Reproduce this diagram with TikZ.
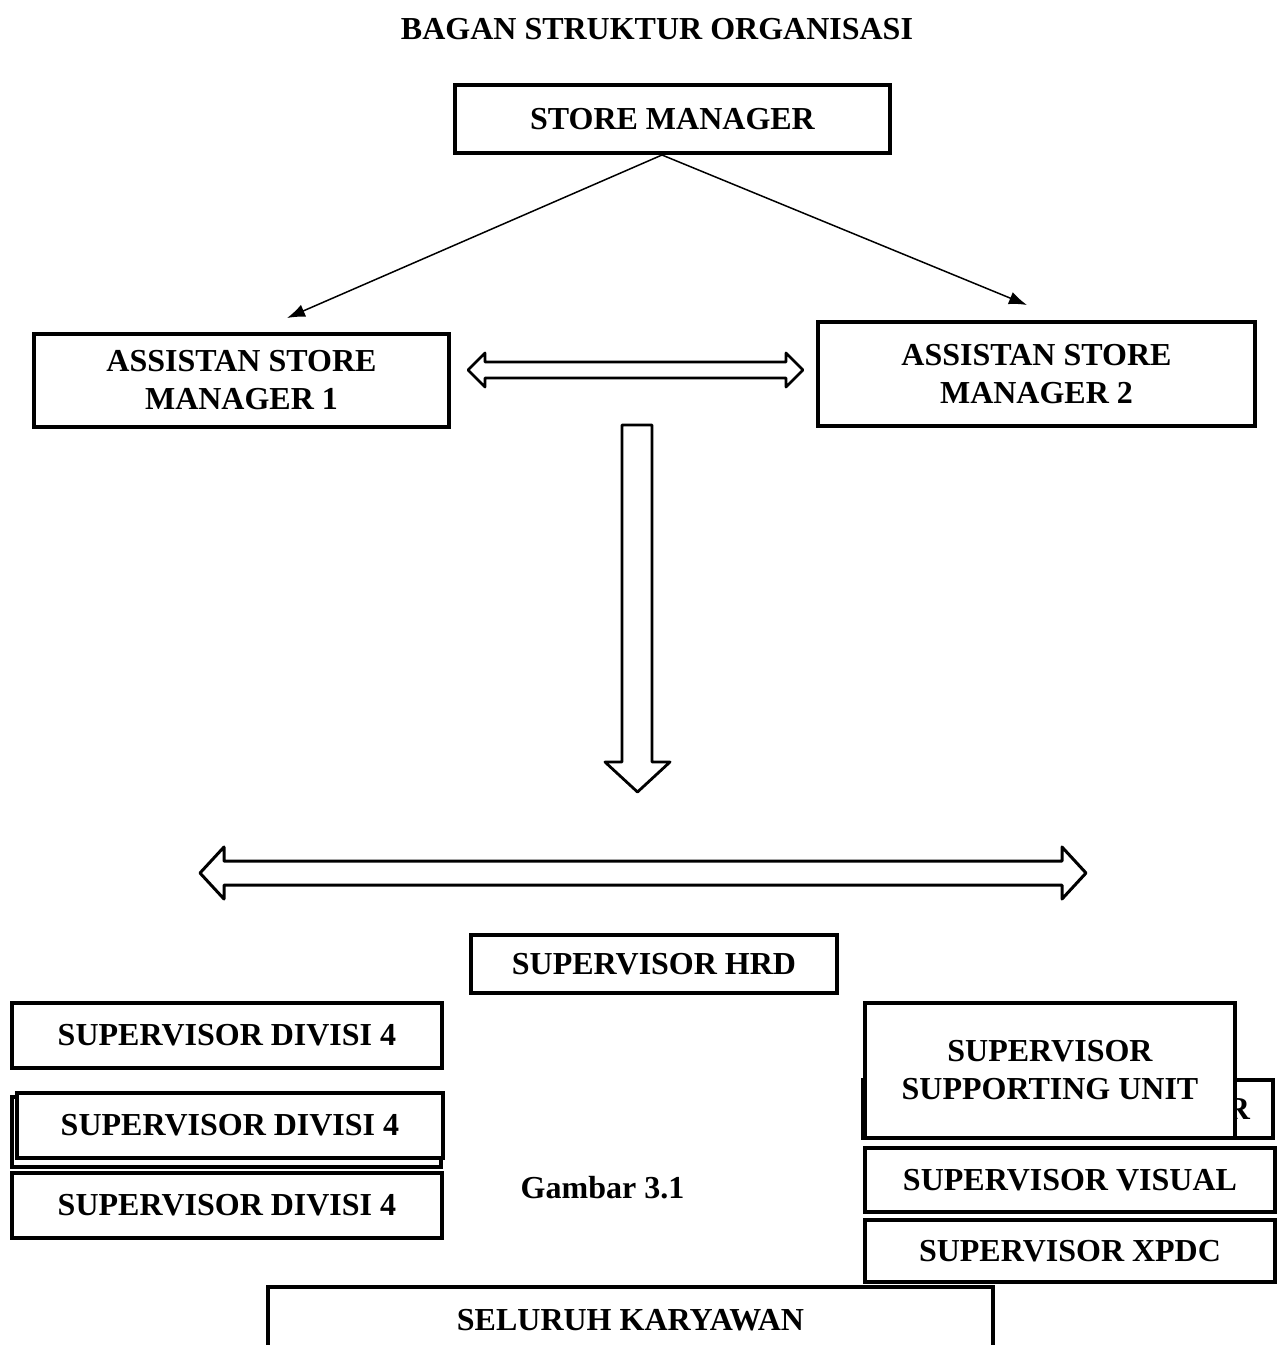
\documentclass[tikz,border=0pt]{standalone}
\usepackage{fontspec}
\setmainfont{Liberation Serif}
\usetikzlibrary{arrows.meta}
\tikzset{
  box/.style={draw, line width=1.8pt, fill=white, inner sep=0pt, align=center,
    font=\bfseries\fontsize{16}{19}\selectfont},
  hollow/.style={draw, line width=1.4pt, line join=round},
}
\begin{document}
\begin{tikzpicture}[x=0.5pt, y=-0.5pt, >={Latex[length=9pt,width=6.5pt]}]
  \clip (0,0) rectangle (1280,1345);
  \node (judul) at (657,29) [font=\bfseries\fontsize{16}{19}\selectfont]{BAGAN STRUKTUR ORGANISASI};
  \node (sm) at (672.5,119) [box, minimum width=217.5pt, minimum height=34pt]{STORE MANAGER};
  \node (asm1) at (241.5,380.5) [box, minimum width=207.5pt, minimum height=46.5pt]{ASSISTAN STORE\\MANAGER 1};
  \node (asm2) at (1036.5,374) [box, minimum width=218.5pt, minimum height=52pt]{ASSISTAN STORE\\MANAGER 2};

  % garis dari store manager
  \coordinate (cabang) at (662,155);
  \coordinate (ke1) at (287,318);
  \coordinate (ke2) at (1027,305);
  \draw[line width=.75pt, ->] (cabang)--(ke1);
  \draw[line width=.75pt, ->] (cabang)--(ke2);

  % panah kosong
  \draw[hollow] (468,370)--(485,353)--(485,362)--(786,362)--(786,353)--(803,370)
    --(786,387)--(786,378)--(485,378)--(485,387)--cycle;
  \draw[hollow] (622,425)--(652,425)--(652,762)--(670,762)--(637.5,792)--(605,762)--(622,762)--cycle;
  \draw[hollow, line width=1.5pt] (200,873)--(224,847)--(224,861)--(1062,861)--(1062,847)--(1086,873)
    --(1062,899)--(1062,885)--(224,885)--(224,899)--cycle;

  \node (hrd) at (654,964) [box, minimum width=183pt, minimum height=29pt]{SUPERVISOR HRD};

  \node (div1) at (227,1035.5) [box, minimum width=215pt, minimum height=32.5pt]{SUPERVISOR DIVISI 4};
  \node (div2b) at (226.5,1132) [box, minimum width=214.5pt, minimum height=35pt]{};
  \node (div2) at (230,1125.5) [box, minimum width=213pt, minimum height=32.5pt]{SUPERVISOR DIVISI 4};
  \node (div3) at (227,1205.5) [box, minimum width=215pt, minimum height=32.5pt]{SUPERVISOR DIVISI 4};

  \node (gambar) at (602.5,1188) [font=\bfseries\fontsize{16}{19}\selectfont]{Gambar 3.1};

  \node (supb) at (1068,1109) [box, inner xsep=11.5pt, text width=182pt, align=right, minimum height=29pt]{R};
  \node (supu) at (1050,1070.5) [box, minimum width=185pt, minimum height=67.5pt]{SUPERVISOR\\SUPPORTING UNIT};
  \node (visual) at (1070,1180) [box, minimum width=205pt, minimum height=32pt]{SUPERVISOR VISUAL};
  \node (xpdc) at (1070,1251) [box, minimum width=205pt, minimum height=31pt]{SUPERVISOR XPDC};

  \node (karyawan) at (630.5,1320) [box, minimum width=362.5pt, minimum height=33pt]{SELURUH KARYAWAN};
\end{tikzpicture}
\end{document}
